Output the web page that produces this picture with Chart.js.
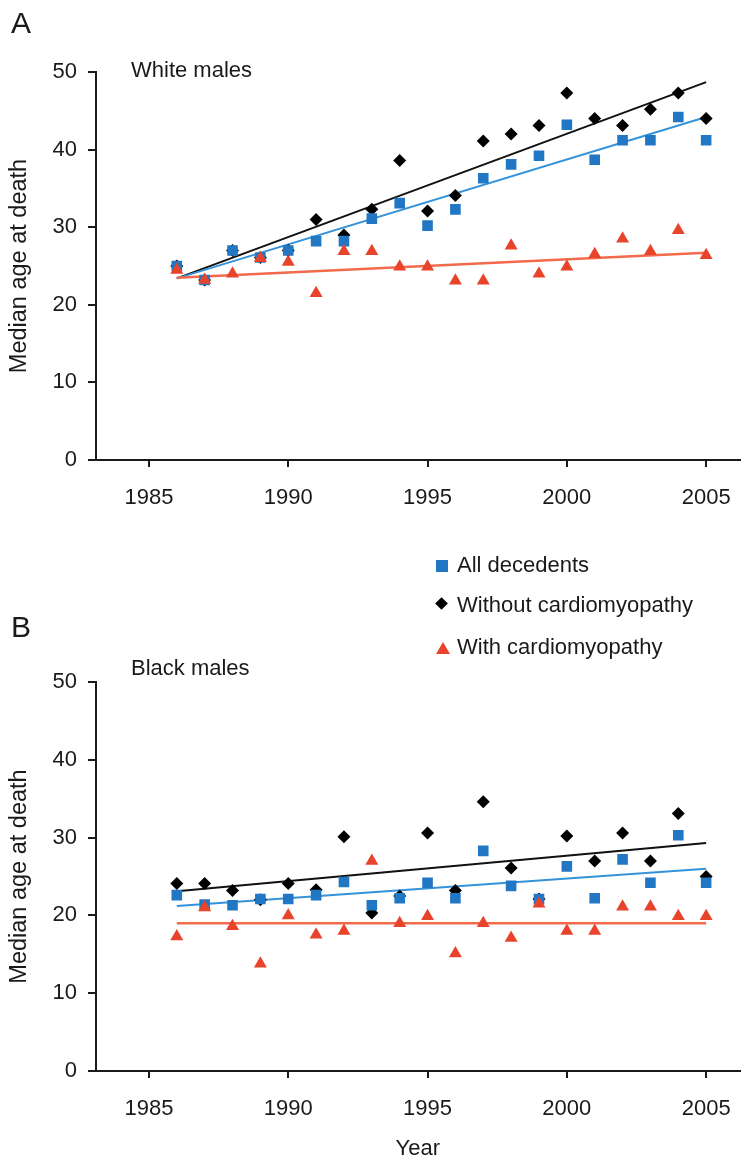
<!DOCTYPE html>
<html>
<head>
<meta charset="utf-8">
<script src="https://cdn.jsdelivr.net/npm/chart.js@4.4.1/dist/chart.umd.min.js"></script>
<style>
html,body{margin:0;padding:0;background:#fff;}
body{width:749px;height:1165px;position:relative;overflow:hidden;font-family:"Liberation Sans",Arial,sans-serif;color:#1a1a1a;}
.abs{position:absolute;white-space:nowrap;}
.lbl{font-size:22px;line-height:22px;}
.big{font-size:30px;line-height:30px;}
#wrapA{position:absolute;left:0;top:0;width:749px;height:540px;}
#wrapB{position:absolute;left:0;top:540px;width:749px;height:625px;}
.sq{position:absolute;width:12px;height:12px;background:#2277C4;}
.dm{position:absolute;width:9px;height:9px;background:#000;transform:rotate(45deg);}
.tr{position:absolute;width:0;height:0;border-left:7px solid transparent;border-right:7px solid transparent;border-bottom:12px solid #E8432B;}
</style>
</head>
<body>
<div id="wrapA"><canvas id="cA" width="749" height="540"></canvas></div>
<div id="wrapB"><canvas id="cB" width="749" height="625"></canvas></div>

<div class="abs big" style="left:11px;top:8px;">A</div>
<div class="abs big" style="left:11px;top:612px;">B</div>
<div class="abs lbl" style="left:131px;top:59px;">White males</div>
<div class="abs lbl" style="left:131px;top:657px;">Black males</div>

<div class="sq" style="left:436px;top:560px;"></div>
<div class="abs lbl" style="left:457px;top:554px;">All decedents</div>
<div class="dm" style="left:437px;top:599px;"></div>
<div class="abs lbl" style="left:457px;top:594px;">Without cardiomyopathy</div>
<div class="tr" style="left:436px;top:642px;"></div>
<div class="abs lbl" style="left:457px;top:636px;">With cardiomyopathy</div>

<script>
// ---- data ----
const years = [1986, 1987, 1988, 1989, 1990, 1991, 1992, 1993, 1994, 1995,
               1996, 1997, 1998, 1999, 2000, 2001, 2002, 2003, 2004, 2005];
const xTicks = [1985, 1990, 1995, 2000, 2005];
const yTicks = [0, 10, 20, 30, 40, 50];

// Panel A: White males
const whiteAll     = [25.0, 23.2, 27.0, 26.1, 27.0, 28.2, 28.2, 31.1, 33.1, 30.2, 32.3, 36.3, 38.1, 39.2, 43.2, 38.7, 41.2, 41.2, 44.2, 41.2];
const whiteWithout = [25.0, 23.2, 27.0, 26.1, 27.0, 31.0, 29.0, 32.3, 38.6, 32.1, 34.1, 41.1, 42.0, 43.1, 47.3, 44.0, 43.1, 45.2, 47.3, 44.0];
const whiteWith    = [24.5, 23.2, 24.0, 26.0, 25.5, 21.5, 26.9, 26.9, 24.9, 24.9, 23.1, 23.1, 27.6, 24.0, 24.9, 26.5, 28.5, 26.9, 29.6, 26.4];

// Panel B: Black males
const blackAll     = [22.6, 21.4, 21.3, 22.1, 22.1, 22.6, 24.3, 21.3, 22.2, 24.2, 22.2, 28.3, 23.8, 22.1, 26.3, 22.2, 27.2, 24.2, 30.3, 24.2];
const blackWithout = [24.1, 24.1, 23.2, 22.0, 24.1, 23.3, 30.1, 20.3, 22.5, 30.6, 23.2, 34.6, 26.1, 22.1, 30.2, 27.0, 30.6, 27.0, 33.1, 25.0];
const blackWith    = [17.3, 21.0, 18.6, 13.8, 20.0, 17.5, 18.0, 27.0, 19.0, 19.9, 15.1, 19.0, 17.1, 21.5, 18.0, 18.0, 21.1, 21.1, 19.9, 19.9];

// Trend line end values
const trendYears        = [1986, 2005];
const whiteAllTrend     = [23.4, 44.2];
const whiteWithoutTrend = [23.4, 48.7];
const whiteWithTrend    = [23.5, 26.7];
const blackAllTrend     = [21.2, 26.0];
const blackWithoutTrend = [23.1, 29.3];
const blackWithTrend    = [19.0, 19.0];

// ---- styling ----
const C_BLUE = '#2277C4', C_BLUE_LINE = '#3493DA';
const C_BLACK = '#000000', C_BLACK_LINE = '#111111';
const C_RED = '#E8432B', C_RED_LINE = '#F26A4B';
const AX = '#1a1a1a';
const FONT = "'Liberation Sans', Arial, sans-serif";

function pts(xs, ys) { return xs.map((x, i) => ({x: x, y: ys[i]})); }

function makeChart(id, s, opts) {
  const datasets = [
    {type:'line', data: pts(trendYears, s.tWithout), borderColor: C_BLACK_LINE, borderWidth: 2, pointRadius: 0, fill:false, order: 6},
    {type:'line', data: pts(trendYears, s.tAll), borderColor: C_BLUE_LINE, borderWidth: 2, pointRadius: 0, fill:false, order: 5},
    {type:'line', data: pts(trendYears, s.tWith), borderColor: C_RED_LINE, borderWidth: 2.5, pointRadius: 0, fill:false, order: 4},
    {type:'scatter', data: pts(years, s.without), pointStyle:'rectRot', pointRadius: 6.5, backgroundColor: C_BLACK, borderWidth: 0, order: 3},
    {type:'scatter', data: pts(years, s.all), pointStyle:'rect', pointRadius: 7.5, backgroundColor: C_BLUE, borderWidth: 0, order: 2},
    {type:'scatter', data: pts(years, s.withC), pointStyle:'triangle', pointRadius: 7.5, backgroundColor: C_RED, borderWidth: 0, order: 1}
  ];
  return new Chart(document.getElementById(id), {
    type: 'scatter',
    data: {datasets},
    options: {
      responsive: false,
      animation: false,
      events: [],
      layout: {padding: {top: opts.padTop, right: 4, left: 0, bottom: 0}},
      plugins: {legend: {display: false}, tooltip: {enabled: false}},
      scales: {
        x: {
          type: 'linear', min: 1983.1, max: 2006.2,
          afterBuildTicks: sc => { sc.ticks = xTicks.map(v => ({value: v})); },
          afterFit: sc => { sc.height = opts.xHeight; },
          grid: {display: true, drawOnChartArea: false, drawTicks: true, tickLength: 7, color: AX, lineWidth: 2},
          border: {display: true, color: AX, width: 2},
          ticks: {color: '#1a1a1a', padding: 18, font: {family: FONT, size: 22}, maxRotation: 0,
                  callback: v => String(v)},
          title: {display: !!opts.xTitle, text: opts.xTitle || '', color: '#1a1a1a',
                  font: {family: FONT, size: 22}, padding: {top: 0, bottom: 3}}
        },
        y: {
          min: 0, max: 50,
          afterBuildTicks: sc => { sc.ticks = yTicks.map(v => ({value: v})); },
          afterFit: sc => { sc.width = 96; },
          grid: {display: true, drawOnChartArea: false, drawTicks: true, tickLength: 8, color: AX, lineWidth: 2},
          border: {display: true, color: AX, width: 2},
          ticks: {color: '#1a1a1a', padding: 11, font: {family: FONT, size: 22}},
          title: {display: true, text: 'Median age at death', color: '#1a1a1a',
                  font: {family: FONT, size: 23.5}, padding: {top: 5, bottom: 0}}
        }
      }
    }
  });
}

makeChart('cA', {all: whiteAll, without: whiteWithout, withC: whiteWith,
                 tAll: whiteAllTrend, tWithout: whiteWithoutTrend, tWith: whiteWithTrend},
          {padTop: 72, xHeight: 80});
makeChart('cB', {all: blackAll, without: blackWithout, withC: blackWith,
                 tAll: blackAllTrend, tWithout: blackWithoutTrend, tWith: blackWithTrend},
          {padTop: 142, xHeight: 94, xTitle: 'Year'});
</script>
</body>
</html>
